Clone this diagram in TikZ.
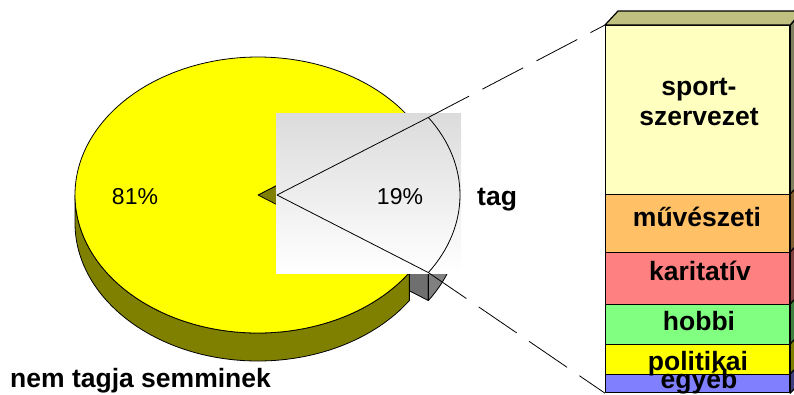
\documentclass[tikz,border=0pt]{standalone}
\usepackage{fontspec}
\setmainfont{Liberation Sans}
\usetikzlibrary{calc}

\definecolor{pieyellow}{HTML}{FFFF00}
\definecolor{pieolive}{HTML}{808000}
\definecolor{slicewall}{HTML}{6F6F6F}
\definecolor{sliceside}{HTML}{808080}
\definecolor{bartop}{HTML}{C0C080}
\definecolor{sportfront}{HTML}{FFFFC0}
\definecolor{sportside}{HTML}{808060}
\definecolor{muvfront}{HTML}{FFC066}
\definecolor{muvside}{HTML}{806033}
\definecolor{karfront}{HTML}{FF8080}
\definecolor{karside}{HTML}{804040}
\definecolor{hobfront}{HTML}{80FF80}
\definecolor{hobside}{HTML}{408040}
\definecolor{polfront}{HTML}{FFFF00}
\definecolor{polside}{HTML}{808000}
\definecolor{egyfront}{HTML}{8080FF}
\definecolor{egyside}{HTML}{404080}

\begin{document}
\begin{tikzpicture}[x=1pt,y=-1pt,line join=round,
    pct/.style={font=\fontsize{23}{28}\selectfont},
    lbl/.style={font=\fontsize{26.5}{30}\selectfont\bfseries},
    seg/.style={draw, line width=1.2pt, minimum width=184pt, inner sep=0pt, anchor=north west},
    face/.style={draw, line width=0.8pt}]
    \clip (0,0) rectangle (794,394);
    \coordinate (c) at (258,195);
    \coordinate (c2) at (277,195);
    \coordinate (e1) at ($(c)+(-34.2:183 and 138)$);
    \coordinate (e2) at ($(c)+(34.2:183 and 138)$);
    \coordinate (s1) at ($(c2)+(-34.2:183 and 138)$);
    \coordinate (s2) at ($(c2)+(34.2:183 and 138)$);

    \filldraw[face, fill=slicewall] (c2) -- (s2) -- ++(0,28) -- ($(c2)+(0,28)$) -- cycle;
    \filldraw[face, fill=sliceside] (s2) arc[start angle=34.2, end angle=0, x radius=183, y radius=138]
        -- ++(0,28) arc[start angle=0, end angle=34.2, x radius=183, y radius=138] -- cycle;

    \filldraw[face, fill=pieolive] (e2) arc[start angle=34.2, end angle=180, x radius=183, y radius=138]
        -- ++(0,28) arc[start angle=180, end angle=34.2, x radius=183, y radius=138] -- cycle;
    \filldraw[face, fill=pieolive] (c) -- (e1) -- ++(0,28) -- ($(c)+(0,28)$) -- cycle;
    \filldraw[face, fill=pieyellow] (c) -- (e2) arc[start angle=34.2, end angle=325.8, x radius=183, y radius=138] -- cycle;

    \shade[top color=black!14, bottom color=white] (276,113) rectangle (461,273);
    \draw[face] (c2) -- (s1) arc[start angle=-34.2, end angle=34.2, x radius=183, y radius=138] -- cycle;

    \node[pct, anchor=base] (p81) at (135,204) {81\%};
    \node[pct, anchor=base] (p19) at (400,204) {19\%};
    \node[lbl, anchor=base west, inner sep=0pt] (tag) at (477,205) {tag};
    \node[lbl, anchor=base west, inner sep=0pt] (nemtag) at (10,387) {nem tagja semminek};

    \foreach \n/\ya/\yb/\cf/\cs in {sport/25/194/sportfront/sportside, muv/194/252/muvfront/muvside,
        kar/252/304/karfront/karside, hob/304/344/hobfront/hobside,
        pol/344/374/polfront/polside, egy/374/392/egyfront/egyside} {
        \node[seg, fill=\cf, minimum height={(\yb-\ya)*1pt}] (\n) at (605,\ya) {};
        \filldraw[seg, fill=\cs] (\n.north east) -- ++(13,-14) -- ($(\n.south east)+(13,-14)$) -- (\n.south east) -- cycle;
    }
    \filldraw[seg, fill=bartop] (sport.north west) -- ++(13,-14) -- ++(184,0) -- (sport.north east) -- cycle;

    \node[lbl, anchor=base] (lsport) at (699,95) {sport-};
    \node[lbl, anchor=base] (lszerv) at (699,125) {szervezet};
    \node[lbl, anchor=base] (lmuv) at (697,226) {művészeti};
    \node[lbl, anchor=base] (lkar) at (700,280) {karitatív};
    \node[lbl, anchor=base] (lhob) at (699,330) {hobbi};
    \node[lbl, anchor=base] (lpol) at (698,370) {politikai};
    \node[lbl, anchor=base] (legy) at (699,388) {egyéb};

    \draw[line width=0.8pt, dash pattern=on 46pt off 15pt] (s1) -- (sport.north west);
    \draw[line width=0.8pt, dash pattern=on 46pt off 15pt] (s2) -- (egy.south west);
\end{tikzpicture}
\end{document}
